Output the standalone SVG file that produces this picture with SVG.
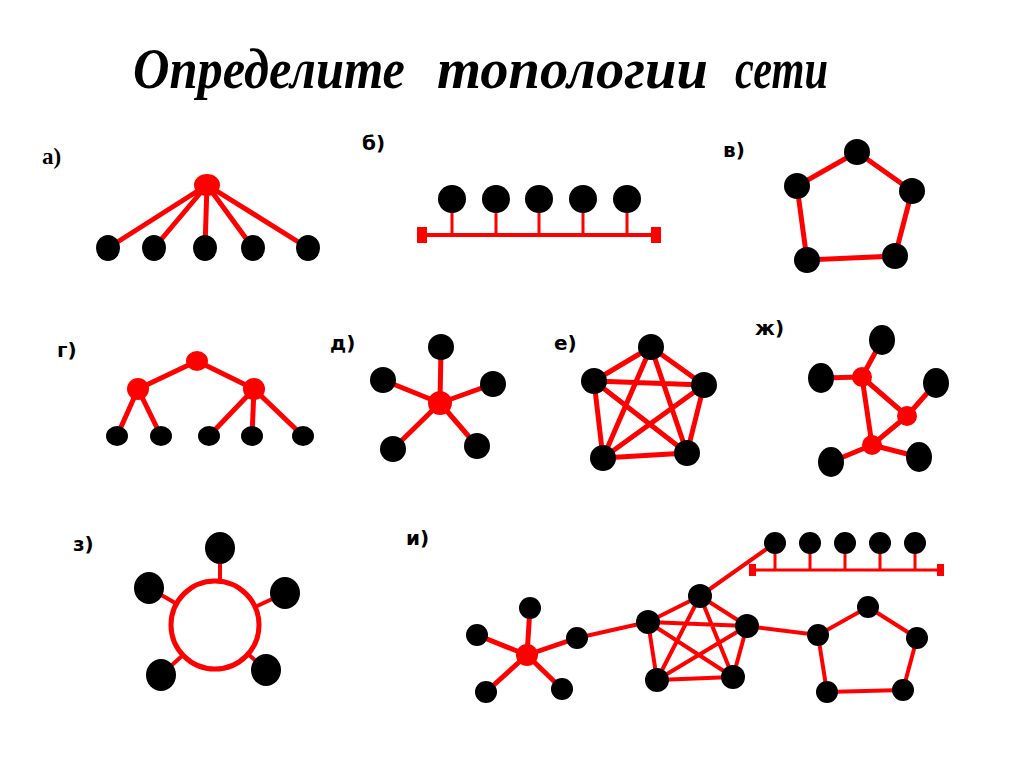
<svg xmlns="http://www.w3.org/2000/svg" width="1024" height="767" viewBox="0 0 1024 767">
<style>
.title{font-family:"Liberation Serif","Times New Roman",serif;font-weight:bold;font-style:italic;font-size:57px;fill:#000}
.lbs{font-family:"Liberation Serif",serif;font-weight:bold;font-size:23px;fill:#000}
.lb{font-family:"DejaVu Sans","Verdana",sans-serif;font-weight:bold;font-size:20px;fill:#000}
.e{stroke:#ff0000;stroke-width:5;fill:none;stroke-linecap:round}
.e4{stroke:#ff0000;stroke-width:4;fill:none}
.e3{stroke:#ff0000;stroke-width:3;fill:none}
.n{fill:#000}
.h{fill:#ff0000}
</style>
<rect width="1024" height="767" fill="#fff"/>
<g id="title">
<text class="title" x="133" y="88" textLength="272" lengthAdjust="spacingAndGlyphs">Определите</text>
<text class="title" x="437" y="88" textLength="271" lengthAdjust="spacingAndGlyphs">топологии</text>
<text class="title" x="735" y="88" textLength="93" lengthAdjust="spacingAndGlyphs">сети</text>
</g>
<g id="labels">
<text class="lbs" x="42" y="164">а)</text>
<text class="lb" x="362" y="150">б)</text>
<text class="lb" x="723" y="157">в)</text>
<text class="lb" x="57" y="357">г)</text>
<text class="lb" x="330" y="350">д)</text>
<text class="lb" x="554" y="350">е)</text>
<text class="lb" x="755" y="335">ж)</text>
<text class="lb" x="73" y="551">з)</text>
<text class="lb" x="406" y="545">и)</text>
</g>
<g id="connectors">
<path class="e" d="M207,185L108,248M207,185L154,248M207,185L205,248M207,185L253,248M207,185L308,248"/>
<path class="e4" d="M422,235H656"/>
<path class="e3" d="M452,199V235M496,199V235M539,199V235M583,199V235M627,199V235"/>
<rect x="417" y="227" width="10" height="16" fill="#ff0000"/>
<rect x="651" y="227" width="10" height="16" fill="#ff0000"/>
<polygon class="e" points="857,152 912,191 895,256 807,260 797,186"/>
<path class="e" d="M197,361L138,389M197,361L254,389M138,389L117,436M138,389L161,436M254,389L209,436M254,389L252,436M254,389L303,436"/>
<path class="e" d="M440,403L441,347M440,403L383,380M440,403L493,384M440,403L393,449M440,403L477,446"/>
<path class="e" d="M651,347L594,381M651,347L704,385M651,347L603,458M651,347L687,453M594,381L704,385M594,381L603,458M594,381L687,453M704,385L603,458M704,385L687,453M603,458L687,453"/>
<path class="e" d="M882,340L862,377M821,378L862,377M862,377L907,416M862,377L872,445M907,416L936,383M907,416L872,445M872,445L831,462M872,445L919,457"/>
<circle class="e" cx="215" cy="625" r="44"/>
<path class="e4" d="M220,560V582M149,588L177,604M285,593L255,607M161,675L183,655M266,670L248,654"/>
<path class="e" d="M527,655L530,608M527,655L477,635M527,655L577,638M527,655L486,692M527,655L562,689"/>
<path class="e4" d="M577,638L648,622M747,626L818,635M775,543L700,596"/>
<path class="e4" d="M700,596L648,622M700,596L747,626M700,596L657,680M700,596L733,677M648,622L747,626M648,622L657,680M648,622L733,677M747,626L657,680M747,626L733,677M657,680L733,677"/>
<polygon class="e4" points="868,607 917,638 903,690 827,692 818,635"/>
<path class="e3" d="M752,570H940M775,543V570M810,543V570M845,543V570M880,543V570M915,543V570"/>
<rect x="749" y="564" width="7" height="12" fill="#ff0000"/>
<rect x="937" y="564" width="7" height="12" fill="#ff0000"/>
</g>
<g id="a-hub"><ellipse class="h" cx="207" cy="185" rx="13" ry="11"/></g>
<g id="a-n1"><ellipse class="n" cx="108" cy="248" rx="12" ry="13"/></g>
<g id="a-n2"><ellipse class="n" cx="154" cy="248" rx="12" ry="13"/></g>
<g id="a-n3"><ellipse class="n" cx="205" cy="248" rx="12" ry="13"/></g>
<g id="a-n4"><ellipse class="n" cx="253" cy="248" rx="12" ry="13"/></g>
<g id="a-n5"><ellipse class="n" cx="308" cy="248" rx="12" ry="13"/></g>
<g id="b-n1"><circle class="n" cx="452" cy="199" r="14"/></g>
<g id="b-n2"><circle class="n" cx="496" cy="199" r="14"/></g>
<g id="b-n3"><circle class="n" cx="539" cy="199" r="14"/></g>
<g id="b-n4"><circle class="n" cx="583" cy="199" r="14"/></g>
<g id="b-n5"><circle class="n" cx="627" cy="199" r="14"/></g>
<g id="v-n1"><circle class="n" cx="857" cy="152" r="13"/></g>
<g id="v-n2"><circle class="n" cx="912" cy="191" r="13"/></g>
<g id="v-n3"><circle class="n" cx="895" cy="256" r="13"/></g>
<g id="v-n4"><circle class="n" cx="807" cy="260" r="13"/></g>
<g id="v-n5"><circle class="n" cx="797" cy="186" r="13"/></g>
<g id="g-root"><ellipse class="h" cx="197" cy="361" rx="11" ry="10"/></g>
<g id="g-left"><ellipse class="h" cx="138" cy="389" rx="11" ry="11"/></g>
<g id="g-right"><ellipse class="h" cx="254" cy="389" rx="11" ry="11"/></g>
<g id="g-n1"><ellipse class="n" cx="117" cy="436" rx="11" ry="10"/></g>
<g id="g-n2"><ellipse class="n" cx="161" cy="436" rx="11" ry="10"/></g>
<g id="g-n3"><ellipse class="n" cx="209" cy="436" rx="11" ry="10"/></g>
<g id="g-n4"><ellipse class="n" cx="252" cy="436" rx="11" ry="10"/></g>
<g id="g-n5"><ellipse class="n" cx="303" cy="436" rx="11" ry="10"/></g>
<g id="d-hub"><circle class="h" cx="440" cy="403" r="12"/></g>
<g id="d-n1"><circle class="n" cx="441" cy="347" r="13"/></g>
<g id="d-n2"><circle class="n" cx="383" cy="380" r="13"/></g>
<g id="d-n3"><circle class="n" cx="493" cy="384" r="13"/></g>
<g id="d-n4"><circle class="n" cx="393" cy="449" r="13"/></g>
<g id="d-n5"><circle class="n" cx="477" cy="446" r="13"/></g>
<g id="e-n1"><circle class="n" cx="651" cy="347" r="13"/></g>
<g id="e-n2"><circle class="n" cx="594" cy="381" r="13"/></g>
<g id="e-n3"><circle class="n" cx="704" cy="385" r="13"/></g>
<g id="e-n4"><circle class="n" cx="603" cy="458" r="13"/></g>
<g id="e-n5"><circle class="n" cx="687" cy="453" r="13"/></g>
<g id="zh-h1"><circle class="h" cx="862" cy="377" r="10"/></g>
<g id="zh-h2"><circle class="h" cx="907" cy="416" r="10"/></g>
<g id="zh-h3"><circle class="h" cx="872" cy="445" r="10"/></g>
<g id="zh-n1"><ellipse class="n" cx="882" cy="340" rx="13" ry="15"/></g>
<g id="zh-n2"><ellipse class="n" cx="821" cy="378" rx="13" ry="15"/></g>
<g id="zh-n3"><ellipse class="n" cx="936" cy="383" rx="13" ry="15"/></g>
<g id="zh-n4"><ellipse class="n" cx="831" cy="462" rx="13" ry="15"/></g>
<g id="zh-n5"><ellipse class="n" cx="919" cy="457" rx="13" ry="15"/></g>
<g id="z-n1"><ellipse class="n" cx="220" cy="548" rx="15" ry="16"/></g>
<g id="z-n2"><ellipse class="n" cx="149" cy="588" rx="15" ry="16"/></g>
<g id="z-n3"><ellipse class="n" cx="285" cy="593" rx="15" ry="16"/></g>
<g id="z-n4"><ellipse class="n" cx="161" cy="675" rx="15" ry="16"/></g>
<g id="z-n5"><ellipse class="n" cx="266" cy="670" rx="15" ry="16"/></g>
<g id="i-hub"><circle class="h" cx="527" cy="655" r="11"/></g>
<g id="i-s1"><circle class="n" cx="530" cy="608" r="11"/></g>
<g id="i-s2"><circle class="n" cx="477" cy="635" r="11"/></g>
<g id="i-s3"><circle class="n" cx="577" cy="638" r="11"/></g>
<g id="i-s4"><circle class="n" cx="486" cy="692" r="11"/></g>
<g id="i-s5"><circle class="n" cx="562" cy="689" r="11"/></g>
<g id="i-m1"><circle class="n" cx="700" cy="596" r="12"/></g>
<g id="i-m2"><circle class="n" cx="648" cy="622" r="12"/></g>
<g id="i-m3"><circle class="n" cx="747" cy="626" r="12"/></g>
<g id="i-m4"><circle class="n" cx="657" cy="680" r="12"/></g>
<g id="i-m5"><circle class="n" cx="733" cy="677" r="12"/></g>
<g id="i-p1"><circle class="n" cx="868" cy="607" r="11"/></g>
<g id="i-p2"><circle class="n" cx="917" cy="638" r="11"/></g>
<g id="i-p3"><circle class="n" cx="903" cy="690" r="11"/></g>
<g id="i-p4"><circle class="n" cx="827" cy="692" r="11"/></g>
<g id="i-p5"><circle class="n" cx="818" cy="635" r="11"/></g>
<g id="i-b1"><circle class="n" cx="775" cy="543" r="11"/></g>
<g id="i-b2"><circle class="n" cx="810" cy="543" r="11"/></g>
<g id="i-b3"><circle class="n" cx="845" cy="543" r="11"/></g>
<g id="i-b4"><circle class="n" cx="880" cy="543" r="11"/></g>
<g id="i-b5"><circle class="n" cx="915" cy="543" r="11"/></g>
</svg>
